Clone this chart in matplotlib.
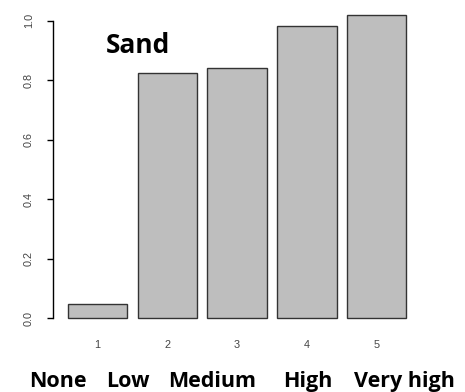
import matplotlib
matplotlib.use("Agg")
import matplotlib.pyplot as plt

# data
bar_ids = [1, 2, 3, 4, 5]
values = [0.046, 0.826, 0.842, 0.984, 1.019]
yticks = [0.0, 0.2, 0.4, 0.6, 0.8, 1.0]
ytick_labels = ["0.0", "0.2", "0.4", "0.6", "0.8", "1.0"]
categories = ["None", "Low", "Medium", "High", "Very high"]
title = "Sand"

# layout of the caption row (pixels in the 465 wide figure)
cat_x_px = [58, 128, 212, 308, 404]

W, H = 465, 392
fig = plt.figure(figsize=(W / 100, H / 100), dpi=100)
ax = fig.add_axes([53.3 / W, (H - 330) / H, (420.9 - 53.3) / W, 327 / H])

ax.bar(bar_ids, values, width=0.85, color="#bebebe", edgecolor="#333333", linewidth=1.0)
ax.set_xlim(0.367, 5.633)
ax.set_ylim(-0.04, 1.06)

for s in ["top", "right", "bottom"]:
    ax.spines[s].set_visible(False)
ax.spines["left"].set_bounds(0, 1)
ax.spines["left"].set_linewidth(1.0)

ax.set_yticks(yticks)
ax.set_yticklabels(ytick_labels, rotation=90, va="center", fontsize=7.8,
                   family="Liberation Sans", color="#444444")
ax.tick_params(axis="y", length=4, width=1.0, pad=10)

ax.set_xticks(bar_ids)
ax.set_xticklabels([str(i) for i in bar_ids], fontsize=7.8, family="Liberation Sans", color="#444444")
ax.tick_params(axis="x", length=0, pad=7.5)

fig.text(106 / W, (H - 53) / H, title, fontsize=19,
         fontweight="bold", family="Open Sans", ha="left", va="baseline")

for x, c in zip(cat_x_px, categories):
    fig.text(x / W, (H - 387) / H, c, fontsize=15.5, fontweight="bold", family="Open Sans",
             ha="center", va="baseline")

fig.savefig("out.png", dpi=100)
